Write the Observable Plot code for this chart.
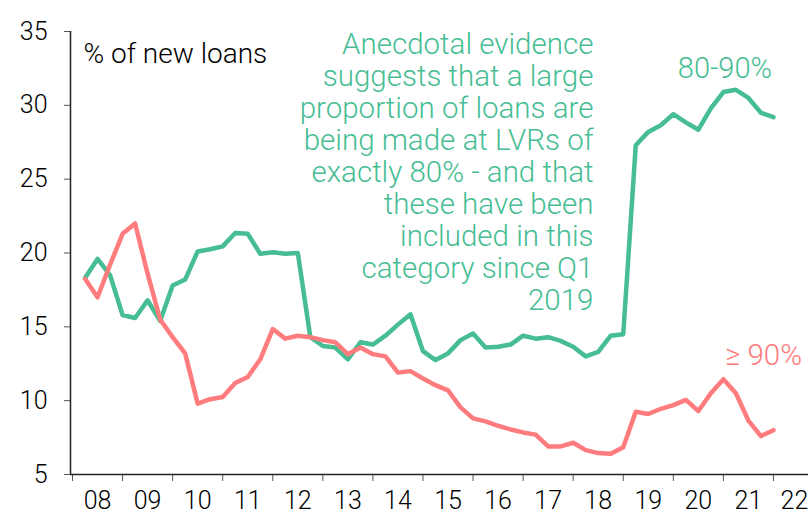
<!DOCTYPE html>
<html><head><meta charset="utf-8">
<script src="https://cdn.jsdelivr.net/npm/d3@7"></script>
<script src="https://cdn.jsdelivr.net/npm/@observablehq/plot@0.6"></script>
<style>
html,body{margin:0;padding:0;background:#fff;}
#chart svg{display:block;}
</style>
</head><body><div id="chart"></div>
<script>
// Quarterly data, 2008 Q1 .. 2021 Q4 (% of new loans)
const startYear = 2008;
const lvr80to90 = [18.3,19.6,18.5,15.8,15.6,16.8,15.4,17.8,18.2,20.1,20.25,20.45,21.35,21.3,19.95,20.05,19.95,20.0,14.3,13.7,13.6,12.8,13.95,13.8,14.4,15.15,15.85,13.35,12.75,13.2,14.1,14.55,13.6,13.65,13.8,14.4,14.2,14.3,14.05,13.65,13.0,13.3,14.4,14.5,27.3,28.2,28.65,29.4,28.85,28.35,29.8,30.9,31.05,30.5,29.5,29.2];
const lvr90plus = [18.25,17.0,19.2,21.3,22.0,18.6,15.5,14.3,13.2,9.8,10.1,10.25,11.2,11.6,12.8,14.85,14.2,14.4,14.3,14.1,13.95,13.15,13.6,13.15,13.0,11.9,12.0,11.5,11.05,10.7,9.55,8.8,8.6,8.3,8.05,7.85,7.7,6.9,6.9,7.15,6.65,6.45,6.4,6.85,9.25,9.1,9.45,9.7,10.05,9.3,10.5,11.45,10.5,8.65,7.6,8.0];
const seriesNames = ["80-90%", "≥ 90%"];
const yTicks = [5, 10, 15, 20, 25, 30, 35];
const yearTicks = [2008,2009,2010,2011,2012,2013,2014,2015,2016,2017,2018,2019,2020,2021,2022];
const yearLabels = ["08","09","10","11","12","13","14","15","16","17","18","19","20","21","22"];
const unitLabel = "% of new loans";
const annotation = ["Anecdotal evidence","suggests that a large","proportion of loans are","being made at LVRs of","exactly 80% - and that","these have been","included in this","category since Q1","2019"];

const toRows = (vals, name) => vals.map((v, i) => ({t: startYear + (i + 1) / 4, v, name}));
const rows = [...toRows(lvr80to90, seriesNames[0]), ...toRows(lvr90plus, seriesNames[1])];

const green = "#46bd93", red = "#ff7c7e";
const font = "Roboto, sans-serif";
const xMin = 2007.96, xMax = 2022.7;

const chart = Plot.plot({
  width: 808, height: 518,
  marginLeft: 70, marginRight: 0, marginTop: 31, marginBottom: 44,
  style: {fontFamily: font, color: "#000", background: "#fff", fontWeight: 300},
  x: {domain: [xMin, xMax]},
  y: {domain: [5, 35]},
  color: {domain: seriesNames, range: [green, red]},
  marks: [
    Plot.axisY({ticks: yTicks, tickSize: 6, tickPadding: 17, fontSize: 25, fontWeight: 300, stroke: "#555", fill: "#000", label: null}),
    Plot.axisX({ticks: yearTicks, tickSize: 7, tickFormat: () => "", stroke: "#555", label: null}),
    Plot.text(yearLabels, {x: (d, i) => Math.min(yearTicks[i] + 0.5, 2022.42), y: 5, text: d => d, dy: 26, fontSize: 25, fontWeight: 300, fill: "#000"}),
    Plot.ruleX([xMin], {stroke: "#222", strokeWidth: 1.5}),
    Plot.ruleY([5], {stroke: "#222", strokeWidth: 1.5}),
    Plot.line(rows, {x: "t", y: "v", z: "name", stroke: "name", strokeWidth: 4.5, strokeLinejoin: "round", strokeLinecap: "round"}),
    Plot.text([unitLabel], {x: 2008.22, y: 33.5, text: d => d, textAnchor: "start", fontSize: 28, fontWeight: 300, fill: "#000"}),
    Plot.text([annotation.join("\n")], {x: 2018.405, y: 25.5, text: d => d, textAnchor: "end", lineAnchor: "middle", lineHeight: 32 / 29.5, fontSize: 29.5, fontWeight: 300, fill: green}),
    Plot.text([seriesNames[0]], {x: 2021.03, y: 32.5, text: d => d, fontSize: 29, fontWeight: 300, fill: green}),
    Plot.text([seriesNames[1]], {x: 2021.8, y: 13.06, text: d => d, fontSize: 29.5, fontWeight: 300, fill: red})
  ]
});
document.getElementById("chart").appendChild(chart);
</script>
</body></html>
